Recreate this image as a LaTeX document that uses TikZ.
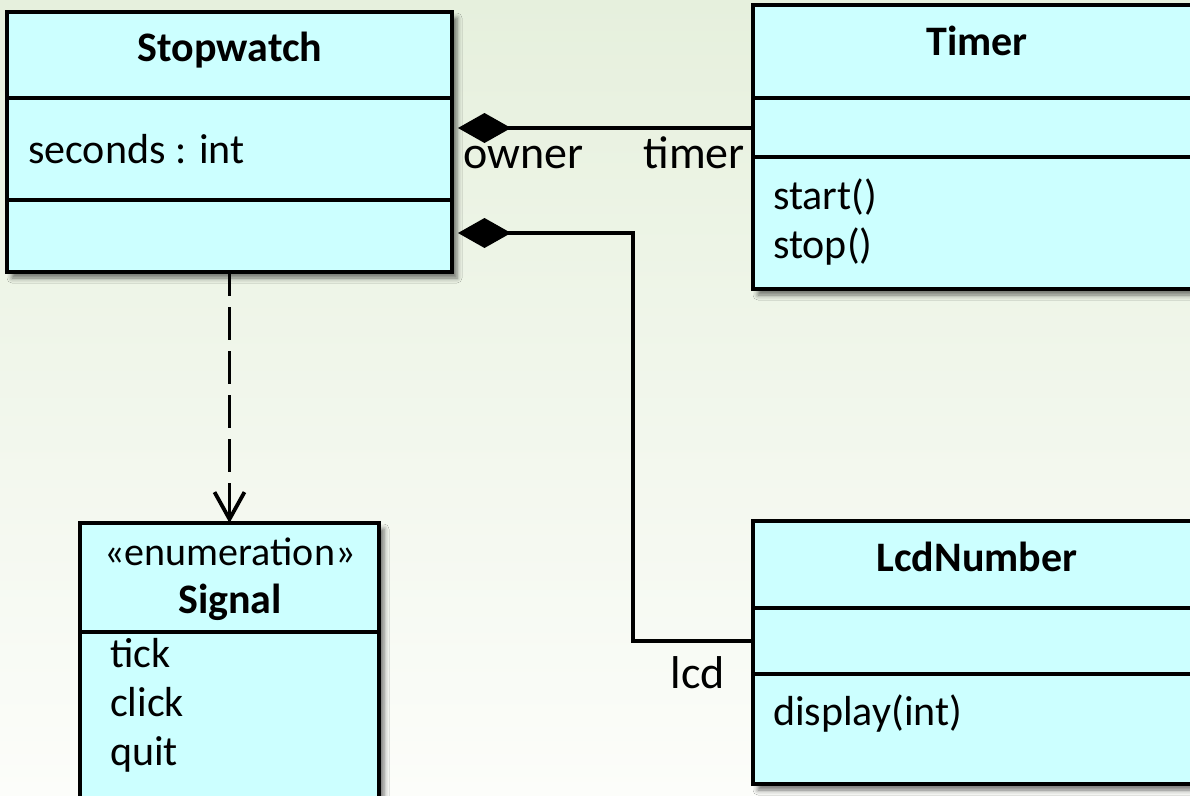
\documentclass[tikz,border=0pt]{standalone}
\usepackage{fontspec}
\setmainfont{Carlito}
\usetikzlibrary{arrows.meta,shadows.blur}

\definecolor{boxfill}{RGB}{204,255,255}
\definecolor{bgtop}{RGB}{230,240,221}
\definecolor{bgbottom}{RGB}{252,253,250}

\tikzset{
  classbox/.style={draw=black, line width=4pt, fill=boxfill, rectangle,
    anchor=north west, inner sep=0pt, outer sep=0pt,
    blur shadow={shadow xshift=5pt, shadow yshift=-6pt, shadow blur radius=5pt, shadow opacity=55}},
  divider/.style={line width=3.6pt},
  member/.style={font=\fontsize{42}{49}\selectfont, inner sep=0pt, anchor=base west},
  title/.style={font=\fontsize{42}{49}\selectfont\bfseries, inner sep=0pt, anchor=base},
  stereo/.style={font=\fontsize{40}{48}\selectfont, inner sep=0pt, anchor=base},
  role/.style={font=\fontsize{46}{54}\selectfont, inner sep=0pt},
  composition/.style={line width=3.6pt, -{Diamond[length=53pt,width=30pt]}, shorten >=6pt},
  dependency/.style={line width=3.8pt, dash pattern=on 33pt off 11pt, dash phase=9pt,
    -{Straight Barb[length=27pt,width=30pt]}}
}

\begin{document}
\begin{tikzpicture}[x=1pt,y=-1pt]
  \useasboundingbox (0,0) rectangle (1190,795);
  \shade[top color=bgtop, bottom color=bgbottom] (0,0) rectangle (1190,795);

  % class boxes
  \node[classbox, minimum width=445pt, minimum height=260pt] (sw) at (7,12) {};
  \node[classbox, minimum width=452pt, minimum height=284pt] (timer) at (753,5) {};
  \node[classbox, minimum width=452pt, minimum height=263pt] (lcd) at (753,521) {};
  \node[classbox, minimum width=299pt, minimum height=295pt] (sig) at (80,523) {};

  % compartment dividers
  \draw[divider] (sw.west |- 0,98) -- (sw.east |- 0,98);
  \draw[divider] (sw.west |- 0,200) -- (sw.east |- 0,200);
  \draw[divider] (timer.west |- 0,98) -- (timer.east |- 0,98);
  \draw[divider] (timer.west |- 0,157) -- (timer.east |- 0,157);
  \draw[divider] (lcd.west |- 0,608) -- (lcd.east |- 0,608);
  \draw[divider] (lcd.west |- 0,674) -- (lcd.east |- 0,674);
  \draw[divider] (sig.west |- 0,632) -- (sig.east |- 0,632);

  % Stopwatch
  \node[title] (swname) at (230,61) {Stopwatch};
  \node[member] (swattr) at (28,163) {seconds : int};

  % Timer
  \node[title] (timername) at (977,55) {Timer};
  \node[member] (tstart) at (773,209) {start()};
  \node[member] (tstop) at (773,258) {stop()};

  % LcdNumber
  \node[title] (lcdname) at (977,571) {LcdNumber};
  \node[member] (ldisp) at (773,725) {display(int)};

  % Signal
  \node[stereo] (sigst) at (230,565) {«enumeration»};
  \node[title] (signame) at (230,613) {Signal};
  \node[member] (stick) at (110,667) {tick};
  \node[member] (sclick) at (110,716) {click};
  \node[member] (squit) at (110,765) {quit};

  % associations
  \draw[composition] (timer.west |- 0,128) -- (sw.east |- 0,128);
  \coordinate (bend) at (633,233);
  \draw[composition] (lcd.west |- 0,641) -| (bend) -- (sw.east |- bend);
  \draw[dependency] (sw.south) -- (sig.north);

  % role names
  \node[role, anchor=base west] (rowner) at (463,168) {owner};
  \node[role, anchor=base east] (rtimer) at (745,168) {timer};
  \node[role, anchor=base east] (rlcd) at (725,688) {lcd};
\end{tikzpicture}
\end{document}
